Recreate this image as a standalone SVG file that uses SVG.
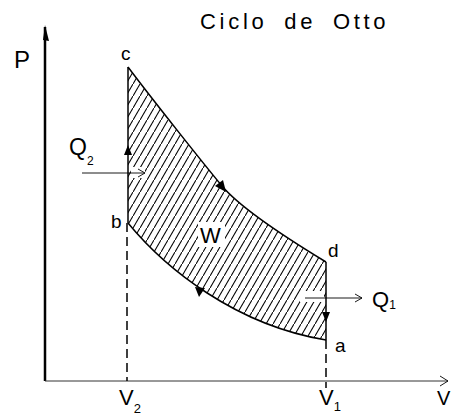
<svg xmlns="http://www.w3.org/2000/svg" width="452" height="415" viewBox="0 0 452 415">
<style>
.t{font-family:"Liberation Sans",Arial,sans-serif;fill:#000}
.ln{fill:none;stroke:#000;stroke-width:1.5}
.dash{fill:none;stroke:#000;stroke-width:1.5;stroke-dasharray:9 5}
.thin{fill:none;stroke:#000;stroke-width:0.9}
.ah{fill:#000;stroke:none}
</style>
<defs>
<pattern id="hatch" patternUnits="userSpaceOnUse" width="7" height="12">
<path d="M-1,13.71 L8,-1.71" stroke="#000" stroke-width="1.1"/>
</pattern>
<clipPath id="cyc"><path d="M128,67 C152,99 203,163 222,186 C238,205 270,228 326,262 L326,340 C235,325 165,268 128,223 Z"/></clipPath>
</defs>
<rect width="452" height="415" fill="#fff"/>
<g id="title"><text class="t" x="200" y="29" font-size="22" letter-spacing="3.7" word-spacing="7">Ciclo de Otto</text></g>
<g id="axes">
<line x1="45" y1="381" x2="45" y2="27" stroke="#000" stroke-width="2.5"/>
<path d="M45,25 L43,40 L49,41 Z" class="ah"/>
<line x1="45" y1="381" x2="448" y2="381" stroke="#333" stroke-width="1"/>
<path d="M440,376 L448,381 L440,386" class="thin"/>
<text class="t" x="14" y="68" font-size="24">P</text>
<text class="t" x="437" y="405" font-size="20">V</text>
</g>
<g id="work-area">
<rect x="120" y="60" width="210" height="285" fill="url(#hatch)" clip-path="url(#cyc)"/>
<rect x="198" y="222" width="27" height="25" fill="#fff"/>
<rect x="300" y="291" width="24" height="11" fill="#fff"/>
<rect x="131" y="167" width="14" height="11" fill="#fff"/>
<text class="t" x="200" y="243" font-size="22">W</text>
</g>
<g id="connectors">
<path id="b-c" d="M128,223 L128,67" class="ln"/>
<path id="c-d" d="M128,67 C152,99 203,163 222,186 C238,205 270,228 326,262" class="ln" stroke-width="1.3"/>
<path id="d-a" d="M326,262 L326,340" class="ln"/>
<path id="a-b" d="M326,340 C235,325 165,268 128,223" class="ln" stroke-width="1.3"/>
<path d="M128,145 L124,155 L132,155 Z" class="ah"/>
<path d="M226,192 L223,180 L215,186 Z" class="ah"/>
<path d="M199,297 L195,287 L205,288 Z" class="ah"/>
<path d="M326,322 L322,312 L330,312 Z" class="ah"/>
<line x1="127" y1="223" x2="127" y2="381" class="dash"/>
<line x1="326" y1="340" x2="326" y2="388" class="dash"/>
<line x1="82" y1="173" x2="145" y2="173" class="thin"/>
<path d="M138,169 L145,173 L138,177" class="thin"/>
<line x1="305" y1="298" x2="362" y2="298" class="thin"/>
<path d="M355,294 L362,298 L355,302" class="thin"/>
</g>
<g id="node-c"><text class="t" x="121" y="60" font-size="19">c</text></g>
<g id="node-b"><text class="t" x="111" y="228" font-size="19">b</text></g>
<g id="node-d"><text class="t" x="328" y="257" font-size="19">d</text></g>
<g id="node-a"><text class="t" x="335" y="352" font-size="19">a</text></g>
<g id="label-Q2"><text class="t" x="69" y="155" font-size="23">Q<tspan font-size="12" dy="10">2</tspan></text></g>
<g id="label-Q1"><text class="t" x="372" y="307" font-size="22">Q<tspan font-size="12" dy="2">1</tspan></text></g>
<g id="label-V2"><text class="t" x="119" y="405" font-size="22">V<tspan font-size="13" dy="8">2</tspan></text></g>
<g id="label-V1"><text class="t" x="319" y="405" font-size="22">V<tspan font-size="13" dy="6">1</tspan></text></g>
</svg>
